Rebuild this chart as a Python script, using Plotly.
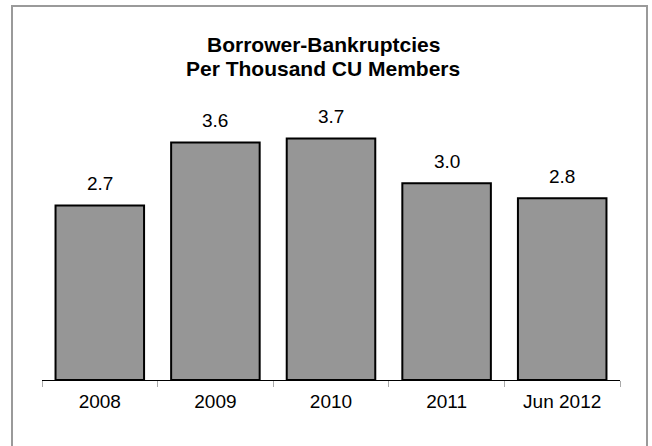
import plotly.graph_objects as go

categories = ["2008", "2009", "2010", "2011", "Jun 2012"]
values = [2.66, 3.62, 3.68, 3.00, 2.77]
title_lines = ["Borrower-Bankruptcies", "Per Thousand CU Members"]

W, H = 652, 446
L, R, T, B = 42, 32, 52, 66
plot_h = H - T - B
plot_w = W - L - R
FONT = "Liberation Sans, Arial"

fig = go.Figure()
fig.add_trace(go.Bar(
    x=categories, y=values,
    marker=dict(color="#969696", line=dict(color="#000000", width=2)),
    hoverinfo="skip",
))

# value labels (x given as category index so numeric-looking names are not read as indices)
for i, v in enumerate(values):
    fig.add_annotation(x=i, y=v, text=f"{v:.1f}", showarrow=False,
                       yanchor="middle", yshift=22,
                       font=dict(family=FONT, size=19, color="#000000"))

def py(pix):
    return (H - B - pix) / plot_h

fig.add_annotation(xref="paper", yref="paper", x=(323 - L) / plot_w, y=py(44.5),
                   text=f"<b>{title_lines[0]}</b>", showarrow=False, yanchor="middle",
                   font=dict(family=FONT, size=21, color="#000000"))
fig.add_annotation(xref="paper", yref="paper", x=(323 - L) / plot_w, y=py(68),
                   text=f"<b>{title_lines[1]}</b>", showarrow=False, yanchor="middle",
                   font=dict(family=FONT, size=21, color="#000000"))

# outer frame
fig.add_shape(type="rect", xref="paper", yref="paper",
              x0=(12 - L) / plot_w, x1=(647 - L) / plot_w,
              y0=py(470), y1=py(6),
              line=dict(color="#9a9a9a", width=2), fillcolor="rgba(0,0,0,0)", layer="below")

fig.update_layout(
    width=W, height=H,
    margin=dict(l=L, r=R, t=T, b=B, pad=0),
    paper_bgcolor="white", plot_bgcolor="white",
    bargap=0.234,
    showlegend=False,
    hovermode=False,
    font=dict(family=FONT, size=19, color="#000000"),
)
fig.update_xaxes(
    type="category", range=[-0.5, len(categories) - 0.5],
    showline=True, linecolor="#000000", linewidth=1.2,
    ticks="outside", tickson="boundaries", ticklen=6, tickcolor="#aaaaaa", tickwidth=1,
    showgrid=False, tickfont=dict(family=FONT, size=19, color="#000000"), tickangle=0,
    ticklabelstandoff=4,
)
fig.update_yaxes(range=[0, 5], visible=False, showgrid=False, zeroline=False)

fig.write_html("out.html",
               config={"displayModeBar": False, "staticPlot": True},
               post_script="document.body.style.margin='0';document.body.style.overflow='hidden';")
